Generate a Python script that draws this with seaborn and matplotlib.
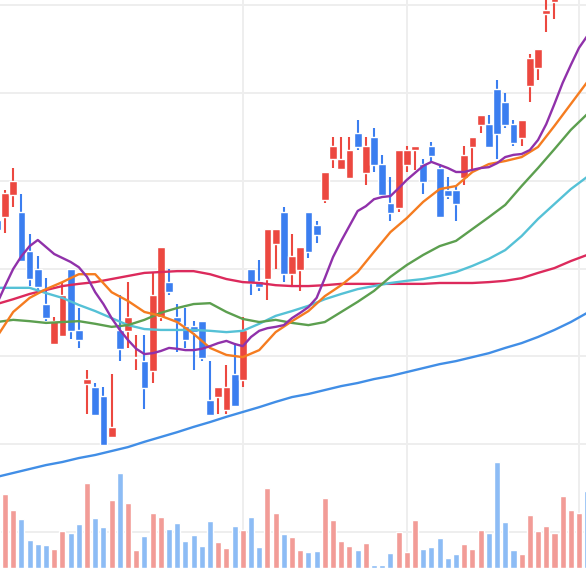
import numpy as np
import pandas as pd
import matplotlib
matplotlib.use("Agg")
import matplotlib.pyplot as plt
import seaborn as sns

# daily candles, index 0 is the one cut off at the left edge
open_ = [15.11, 15.17, 15.68, 15.29, 14.40, 13.99, 13.19, 12.28, 12.46, 13.99,
         12.60, 11.37, 11.30, 11.09, 10.16, 12.60, 12.58, 11.96, 11.89, 11.66,
         12.89, 13.69, 12.89, 12.69, 12.69, 12.80, 11.00, 11.07, 10.77, 11.60,
         11.46, 13.99, 13.72, 13.76, 14.56, 15.29, 13.87, 13.97, 15.29, 14.99,
         15.56, 16.50, 16.27, 16.06, 17.09, 16.18, 17.00, 16.38, 15.49, 15.38,
         16.36, 16.70, 16.38, 16.79, 16.29, 15.79, 15.79, 16.06, 16.77, 17.27,
         17.29, 18.09, 17.79, 17.29, 16.97, 18.16, 18.57, 19.80, 20.07, 20.30,
         20.80, 21.15, 21.60]
high = [15.20, 15.79, 16.29, 15.70, 14.79, 14.28, 13.78, 12.89, 13.69, 13.99,
        13.10, 11.69, 11.39, 11.30, 11.60, 13.40, 13.69, 12.48, 12.48, 13.90,
        14.49, 13.99, 13.19, 13.10, 12.80, 12.80, 11.89, 11.30, 11.80, 12.30,
        12.89, 13.99, 14.19, 14.90, 14.90, 15.40, 14.79, 14.49, 15.29, 15.08,
        16.20, 17.00, 17.00, 17.00, 17.38, 17.00, 17.20, 16.59, 16.09, 16.70,
        16.79, 16.79, 16.50, 16.88, 16.38, 16.09, 15.90, 16.79, 17.00, 17.50,
        17.50, 18.30, 18.00, 17.38, 17.38, 18.89, 19.00, 20.23, 20.35, 20.92,
        21.26, 21.60, 21.72]
low = [14.80, 14.81, 15.40, 14.15, 13.60, 13.46, 12.80, 12.28, 12.46, 12.39,
       12.19, 10.68, 10.66, 9.98, 10.16, 11.89, 12.19, 11.69, 10.80, 11.39,
       12.80, 13.40, 12.10, 12.19, 11.69, 11.89, 10.66, 10.68, 10.68, 10.87,
       11.30, 13.40, 13.49, 13.28, 13.99, 13.69, 13.60, 13.49, 14.24, 14.58,
       15.49, 16.29, 16.27, 16.06, 16.70, 15.90, 16.20, 15.68, 15.08, 15.29,
       16.20, 16.25, 15.70, 16.43, 15.17, 15.58, 15.08, 15.90, 16.25, 17.09,
       16.77, 16.50, 17.20, 16.79, 16.79, 17.79, 18.30, 19.39, 19.69, 20.23,
       20.69, 21.03, 21.26]
close = [14.88, 15.72, 15.99, 14.17, 13.76, 13.58, 12.87, 12.80, 13.40, 12.58,
         12.37, 11.48, 10.66, 9.98, 10.39, 12.17, 12.89, 11.98, 11.28, 13.40,
         14.49, 13.46, 12.78, 12.37, 12.55, 11.96, 10.66, 11.30, 11.30, 10.87,
         12.60, 13.67, 13.58, 14.90, 14.90, 13.87, 14.28, 14.49, 14.38, 14.76,
         16.20, 16.79, 16.50, 16.70, 16.77, 16.79, 16.36, 15.68, 15.26, 16.70,
         16.70, 16.79, 15.97, 16.56, 15.17, 15.65, 15.47, 16.59, 17.00, 17.50,
         16.77, 17.07, 17.27, 16.86, 17.38, 18.80, 19.00, 19.89, 20.26, 20.80,
         21.15, 21.49, 21.37]
volume = [40, 74, 58, 49, 28, 24, 23, 19, 37, 35, 44, 85, 50, 41, 68, 95, 65,
          18, 32, 55, 51, 39, 45, 27, 33, 22, 47, 26, 20, 42, 38, 51, 21, 80,
          55, 34, 31, 18, 16, 17, 70, 48, 27, 22, 18, 25, 3, 3, 15, 36, 16, 48,
          19, 21, 30, 10, 14, 24, 19, 38, 35, 106, 46, 18, 14, 53, 37, 42, 35,
          72, 58, 55, 77]

# moving averages
ma5 = [13.19, 13.60, 13.99, 14.28, 14.51, 14.65, 14.49, 14.33, 14.24, 14.15,
       14.03, 13.81, 13.46, 13.19, 12.87, 12.60, 12.37, 12.17, 12.05, 12.07,
       12.12, 12.19, 12.17, 12.14, 12.14, 12.17, 12.23, 12.30, 12.35, 12.28,
       12.23, 12.44, 12.58, 12.64, 12.67, 12.71, 12.87, 12.99, 13.12, 13.33,
       13.78, 14.26, 14.63, 14.97, 15.31, 15.42, 15.58, 15.63, 15.65, 15.83,
       16.02, 16.18, 16.34, 16.43, 16.36, 16.29, 16.20, 16.20, 16.25, 16.29,
       16.31, 16.40, 16.54, 16.59, 16.61, 16.70, 16.93, 17.29, 17.75, 18.23,
       18.64, 19.03, 19.30]
ma10 = [12.44, 13.01, 13.33, 13.53, 13.69, 13.87, 13.87, 13.46, 13.26, 13.01,
        12.92, 12.78, 12.51, 12.19, 12.03, 11.98, 12.14, 12.55, 12.80, 13.03,
        13.37, 13.62, 13.92, 14.38, 14.83, 15.15, 15.52, 15.81, 15.88, 16.20,
        16.38, 16.45, 16.54, 16.77, 17.25, 17.75, 18.25]
ma20 = [12.78, 12.83, 12.80, 12.76, 12.78, 12.80, 12.74, 12.67, 12.71, 12.83,
        12.99, 13.10, 13.19, 13.21, 13.01, 12.85, 12.78, 12.83, 12.76, 12.71,
        12.78, 13.01, 13.24, 13.49, 13.81, 14.08, 14.31, 14.51, 14.63, 14.90,
        15.17, 15.45, 15.88, 16.29, 16.72, 17.16, 17.52]
ma30 = [13.56, 13.56, 13.56, 13.44, 13.33, 13.17, 13.03, 12.87, 12.71, 12.62,
        12.60, 12.60, 12.60, 12.58, 12.55, 12.58, 12.74, 12.92, 13.03, 13.15,
        13.30, 13.42, 13.53, 13.60, 13.67, 13.72, 13.76, 13.83, 13.92, 14.06,
        14.22, 14.42, 14.74, 15.13, 15.47, 15.81, 16.09]
ma60 = [13.19, 13.30, 13.42, 13.51, 13.60, 13.65, 13.69, 13.76, 13.83, 13.90,
        13.92, 13.94, 13.94, 13.87, 13.76, 13.69, 13.67, 13.62, 13.60, 13.60,
        13.62, 13.65, 13.65, 13.65, 13.65, 13.65, 13.65, 13.67, 13.67, 13.67,
        13.69, 13.72, 13.78, 13.90, 14.01, 14.17, 14.31]
ma120 = [9.25, 9.34, 9.43, 9.52, 9.59, 9.68, 9.75, 9.84, 9.93, 10.05,
         10.16, 10.27, 10.39, 10.50, 10.62, 10.73, 10.84, 10.96, 11.07, 11.14,
         11.23, 11.32, 11.39, 11.48, 11.55, 11.64, 11.73, 11.82, 11.89, 11.98,
         12.07, 12.19, 12.30, 12.44, 12.60, 12.78, 12.99]

month_ticks = [30, 50, 71]

up_color, down_color = "#ec4840", "#3b7ef0"
up_light, down_light = "#f29c97", "#8dbcf5"

idx = np.arange(len(close))
o, h, l, c = map(np.array, (open_, high, low, close))
rising = c >= o

sns.set_theme(style="white")
fig = plt.figure(figsize=(5.86, 5.68), dpi=100)
ax = fig.add_axes([0, 0, 1, 1])
vax = fig.add_axes([0, 0, 1, 125 / 568])

# price panel
ax.set_yticks(np.arange(8, 21, 2))
ax.set_xticks(month_ticks)
ax.grid(True, color="#eeeeee", lw=1.4)
ax.set_axisbelow(True)
ax.tick_params(length=0, labelbottom=False, labelleft=False)
for s in ax.spines.values():
    s.set_visible(False)

colors = np.where(rising, up_color, down_color)
ax.vlines(idx, l, h, colors=colors, lw=1.5, zorder=3)
body = np.maximum(np.abs(c - o), 0.025)
ax.bar(idx, body, bottom=np.minimum(o, c), width=0.95, color=colors, zorder=4)

ma_idx = np.arange(0, 73, 2)
lines = [
    (ma120, "#418ee6"),
    (ma60, "#dc2a5c"),
    (ma30, "#55c1d6"),
    (ma20, "#5c9f4f"),
    (ma10, "#f57c20"),
]
for vals, col in lines:
    sns.lineplot(x=ma_idx, y=vals, color=col, lw=1.7, ax=ax, zorder=5)
sns.lineplot(x=np.arange(73), y=ma5, color="#9031aa", lw=1.7, ax=ax, zorder=5)
ax.set_xlim(0.39, 71.85)
ax.set_ylim(7.174, 20.12)

# volume panel
vol_df = pd.DataFrame({"idx": idx, "vol": volume,
                       "dir": np.where(rising, "up", "down")})
sns.barplot(data=vol_df, x="idx", y="vol", hue="dir",
            palette={"up": up_light, "down": down_light},
            native_scale=True, dodge=False, width=0.75, saturation=1,
            legend=False, ax=vax)
vax.set_xlim(0.39, 71.85)
vax.set_ylim(0, 125)
vax.patch.set_alpha(0)
vax.axis("off")

fig.savefig("out.png", dpi=100)
